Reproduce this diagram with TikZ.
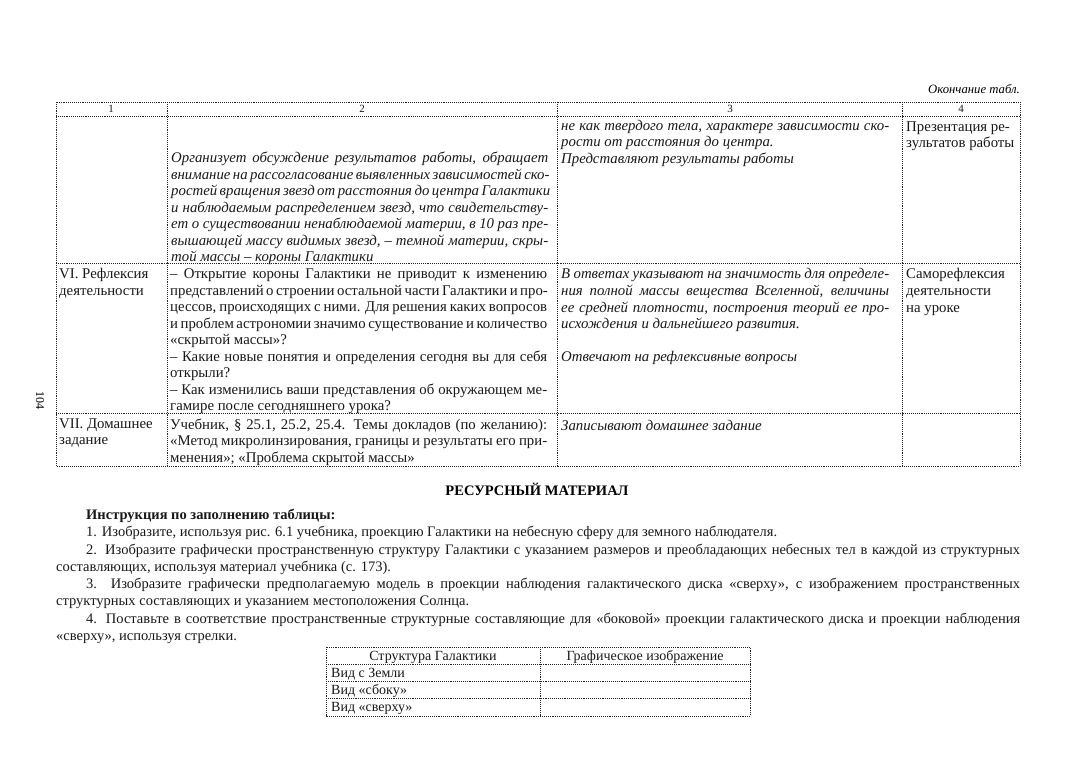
\documentclass[tikz,border=0pt]{standalone}
\usepackage{fontspec}
\setmainfont{Liberation Serif}
\newcommand\cellfont{\fontsize{14.8}{16.55}\selectfont}
\newcommand\insfont{\fontsize{14.5}{17.3}\selectfont}
\newcommand\J[2]{\makebox[#1][s]{#2}}
\newcommand\wB{377pt}
\newcommand\wC{328pt}
\newcommand\wI{934pt}
\begin{document}
\begin{tikzpicture}[x=1pt,y=-1pt,
  tl/.style={densely dotted, line width=0.9pt, draw=black!85},
  cell/.style={anchor=north west, inner sep=0pt, align=left, font=\cellfont, text=black!90, execute at begin node=\strut},
  icell/.style={cell, font=\cellfont\itshape},
  num/.style={anchor=base, inner sep=0pt, font=\fontsize{11}{12}\selectfont, text=black!90},
  ins/.style={anchor=north west, inner sep=0pt, align=left, font=\insfont, text=black!90, execute at begin node=\strut},
  small/.style={anchor=base west, inner sep=0pt, font=\fontsize{14}{15}\selectfont, text=black!90}]
\useasboundingbox[fill=white] (0,0) rectangle (1080,759);

% caption
\node[anchor=base east, inner sep=0pt, font=\fontsize{12.7}{14}\selectfont\itshape] (cap) at (1020,94) {Окончание табл.};

% table grid
\draw[tl] (56,102) rectangle (1020,466);
\draw[tl] (56,116) -- (1020,116);
\draw[tl] (56,263) -- (1020,263);
\draw[tl] (56,413) -- (1020,413);
\draw[tl] (167,102) -- (167,466);
\draw[tl] (557,102) -- (557,466);
\draw[tl] (902,102) -- (902,466);

% header numbers
\node[num] (h1) at (111,113) {1};
\node[num] (h2) at (362,113) {2};
\node[num] (h3) at (730,113) {3};
\node[num] (h4) at (961,113) {4};

% row 1
\node[icell] (r1c2) at (171,151.8) {%
\J\wB{Организует обсуждение результатов работы, обращает}\\
\J\wB{внимание на рассогласование выявленных зависимостей ско-}\\
\J\wB{ростей вращения звезд от расстояния до центра Галактики}\\
\J\wB{и наблюдаемым распределением звезд, что свидетельству-}\\
\J\wB{ет о существовании ненаблюдаемой материи, в 10 раз пре-}\\
\J\wB{вышающей массу видимых звезд, – темной материи, скры-}\\
той массы – короны Галактики};
\node[icell] (r1c3) at (561,119.8) {%
\J\wC{не как твердого тела, характере зависимости ско-}\\
рости от расстояния до центра.\\
Представляют результаты работы};
\node[cell] (r1c4) at (906,121.3) {Презентация ре-\\зультатов работы};

% row VI
\node[cell] (r6c1) at (59,268.5) {VI. Рефлексия\\деятельности};
\node[cell] (r6c2) at (170,268.5) {%
\J\wB{– Открытие короны Галактики не приводит к изменению}\\
\J\wB{представлений о строении остальной части Галактики и про-}\\
\J\wB{цессов, происходящих с ними. Для решения каких вопросов}\\
\J\wB{и проблем астрономии значимо существование и количество}\\
«скрытой массы»?\\
\J\wB{– Какие новые понятия и определения сегодня вы для себя}\\
открыли?\\
\J\wB{– Как изменились ваши представления об окружающем ме-}\\
гамире после сегодняшнего урока?};
\node[icell] (r6c3) at (561,268.5) {%
\J\wC{В ответах указывают на значимость для определе-}\\
\J\wC{ния полной массы вещества Вселенной, величины}\\
\J\wC{ее средней плотности, построения теорий ее про-}\\
исхождения и дальнейшего развития.\\[16.55pt]
Отвечают на рефлексивные вопросы};
\node[cell] (r6c4) at (906,268.5) {Саморефлексия\\деятельности\\на уроке};

% row VII
\node[cell] (r7c1) at (59,418.3) {VII. Домашнее\\задание};
\node[cell] (r7c2) at (170,418.3) {%
\J\wB{Учебник, § 25.1, 25.2, 25.4. Темы докладов (по желанию):}\\
\J\wB{«Метод микролинзирования, границы и результаты его при-}\\
менения»; «Проблема скрытой массы»};
\node[icell] (r7c3) at (561,418.3) {Записывают домашнее задание};

% page number
\node[rotate=-90, inner sep=0pt, font=\fontsize{12}{14}\selectfont] (pg) at (40,401) {104};

% resource material
\node[anchor=base, inner sep=0pt, font=\insfont\bfseries] (res) at (537,495) {РЕСУРСНЫЙ МАТЕРИАЛ};
\node[ins] (instr) at (56,508.9) {%
\hspace*{30pt}\textbf{Инструкция по заполнению таблицы:}\\
\hspace*{30pt}1. Изобразите, используя рис. 6.1 учебника, проекцию Галактики на небесную сферу для земного наблюдателя.\\
\hspace*{30pt}\J\wI{2. Изобразите графически пространственную структуру Галактики с указанием размеров и преобладающих небесных тел в каждой из структурных}\\
составляющих, используя материал учебника (с. 173).\\
\hspace*{30pt}\J\wI{3. Изобразите графически предполагаемую модель в проекции наблюдения галактического диска «сверху», с изображением пространственных}\\
структурных составляющих и указанием местоположения Солнца.\\
\hspace*{30pt}\J\wI{4. Поставьте в соответствие пространственные структурные составляющие для «боковой» проекции галактического диска и проекции наблюдения}\\
«сверху», используя стрелки.};

% small table
\draw[tl] (326,647) rectangle (750,716);
\draw[tl] (326,664) -- (750,664);
\draw[tl] (326,681) -- (750,681);
\draw[tl] (326,698) -- (750,698);
\draw[tl] (540,647) -- (540,716);
\node[small, anchor=base] (sh1) at (433,660) {Структура Галактики};
\node[small, anchor=base] (sh2) at (645,660) {Графическое изображение};
\node[small] (sr1) at (331,677) {Вид с Земли};
\node[small] (sr2) at (331,694) {Вид «сбоку»};
\node[small] (sr3) at (331,711) {Вид «сверху»};
\end{tikzpicture}
\end{document}
